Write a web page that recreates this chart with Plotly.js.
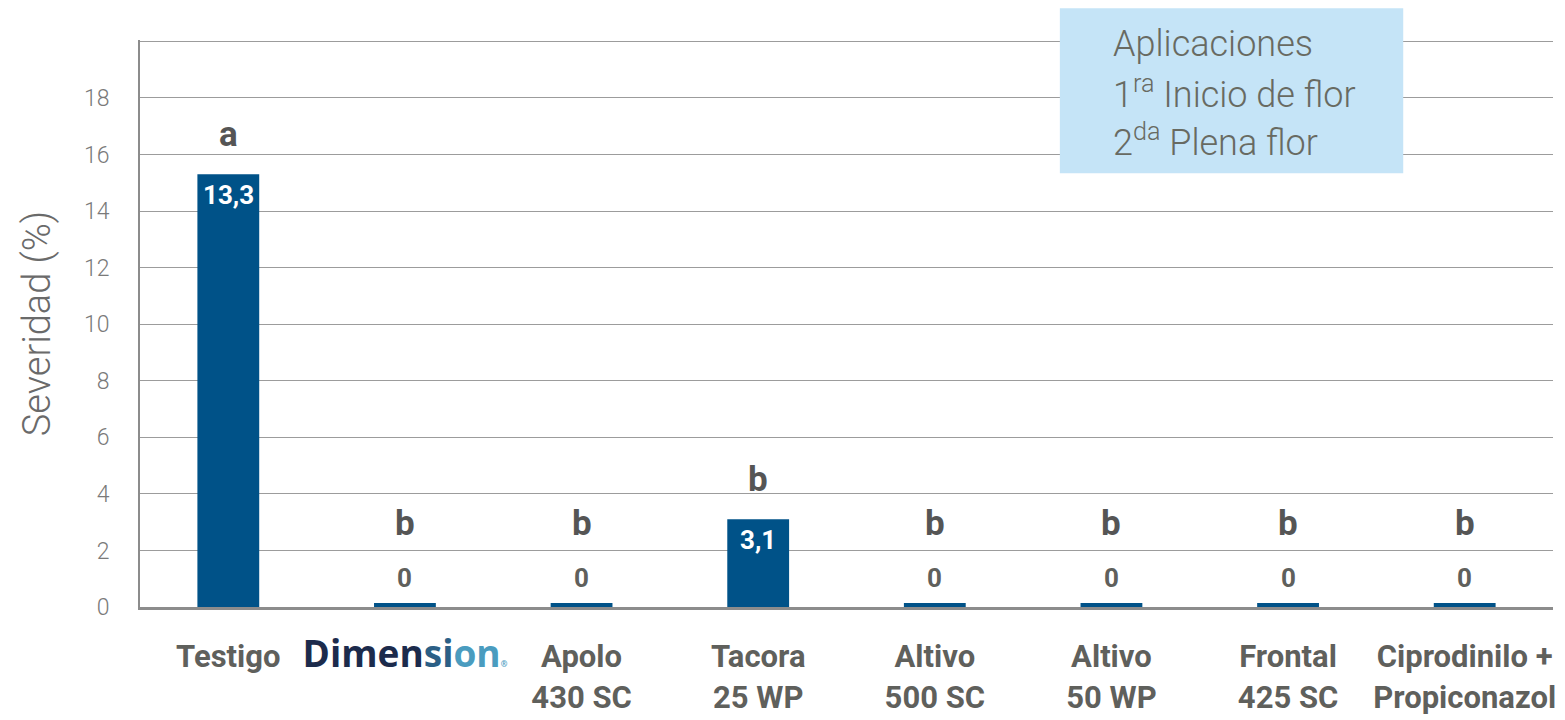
<!DOCTYPE html>
<html>
<head>
<meta charset="utf-8">
<script src="https://cdn.plot.ly/plotly-3.0.1.min.js"></script>
<style>html,body{margin:0;padding:0;background:#fff;}#chart{width:1565px;height:720px;}</style>
</head>
<body>
<div id="chart"></div>
<script>
const categories = ["Testigo", "Dimension", "Apolo 430 SC", "Tacora 25 WP", "Altivo 500 SC", "Altivo 50 WP", "Frontal 425 SC", "Ciprodinilo + Propiconazol"];
const tickLabels = [
  "Testigo",
  "<span style=\"font-family:'Open Sans';font-size:37px;color:#1c2b4c\">Dimen<span style=\"color:#2b5f86\">si</span><span style=\"color:#4a9cbf\">on</span><span style=\"font-size:8px;color:#4a9cbf\">®</span></span>",
  "Apolo<br>430 SC",
  "Tacora<br>25 WP",
  "Altivo<br>500 SC",
  "Altivo<br>50 WP",
  "Frontal<br>425 SC",
  "Ciprodinilo +<br>Propiconazol"
];
const barValues = [15.3, 0.14, 0.14, 3.1, 0.14, 0.14, 0.14, 0.14];
const valueLabels = ["13,3", "0", "0", "3,1", "0", "0", "0", "0"];
const letters = ["a", "b", "b", "b", "b", "b", "b", "b"];
const yTicks = [0, 2, 4, 6, 8, 10, 12, 14, 16, 18, 20];
const yTickText = ["0", "2", "4", "6", "8", "10", "12", "14", "16", "18", ""];
const boxLines = ["Aplicaciones", "1<sup>ra</sup> Inicio de flor", "2<sup>da</sup> Plena flor"];

const barColor = "#005288";
const textGray = "#5f605c";

const annotations = [];
categories.forEach((c, i) => {
  const v = barValues[i];
  const inside = v > 1;
  annotations.push({
    x: c, y: v, xref: "x", yref: "y",
    text: "<b>" + valueLabels[i] + "</b>",
    showarrow: false,
    yanchor: inside ? "top" : "bottom",
    yshift: inside ? -4 : 8,
    font: {family: "Roboto", size: 26, color: inside ? "#ffffff" : textGray}
  });
  annotations.push({
    x: c, y: Math.max(v + 1.4, 2.95), xref: "x", yref: "y",
    text: "<b>" + letters[i] + "</b>",
    showarrow: false,
    yanchor: "middle",
    font: {family: "Roboto", size: 35, color: "#555555"}
  });
});
const boxY = [0.993, 0.908, 0.823];
boxLines.forEach((t, i) => {
  annotations.push({
    x: 0.687, y: boxY[i], xref: "paper", yref: "paper",
    xanchor: "left", yanchor: "middle", align: "left",
    text: t,
    showarrow: false,
    font: {family: "Roboto", size: 36, color: "#686a62", weight: 300}
  });
});

const trace = {
  type: "bar",
  x: categories,
  y: barValues,
  marker: {color: barColor},
  width: 0.35,
  hoverinfo: "skip"
};

const layout = {
  width: 1565, height: 720,
  margin: {l: 140, r: 12, t: 40, b: 113},
  paper_bgcolor: "#ffffff",
  plot_bgcolor: "#ffffff",
  showlegend: false,
  xaxis: {
    type: "category",
    tickvals: categories,
    ticktext: tickLabels,
    ticks: "",
    ticklabelstandoff: 20,
    tickfont: {family: "Roboto", size: 31, color: textGray, weight: "bold"},
    showline: true, linecolor: "#8c8c8c", linewidth: 3,
    showgrid: false, zeroline: false,
    fixedrange: true
  },
  yaxis: {
    range: [0, 20.05],
    tickvals: yTicks,
    ticktext: yTickText,
    ticks: "",
    ticklabelstandoff: 24,
    tickfont: {family: "Roboto", size: 23, color: "#7a7a7a", weight: 300},
    showgrid: true, gridcolor: "#9c9c9c", gridwidth: 1,
    showline: true, linecolor: "#8c8c8c", linewidth: 2,
    zeroline: false,
    title: {text: "Severidad (%)", font: {family: "Roboto", size: 38, color: "#6a6a6a", weight: 300}, standoff: 22},
    fixedrange: true
  },
  shapes: [{
    type: "rect", xref: "paper", yref: "paper",
    x0: 0.651, x1: 0.894, y0: 0.765, y1: 1.056,
    fillcolor: "#c5e4f7", line: {width: 0}, layer: "above"
  }],
  annotations: annotations
};

Plotly.newPlot("chart", [trace], layout, {displayModeBar: false, staticPlot: true});
</script>
</body>
</html>
